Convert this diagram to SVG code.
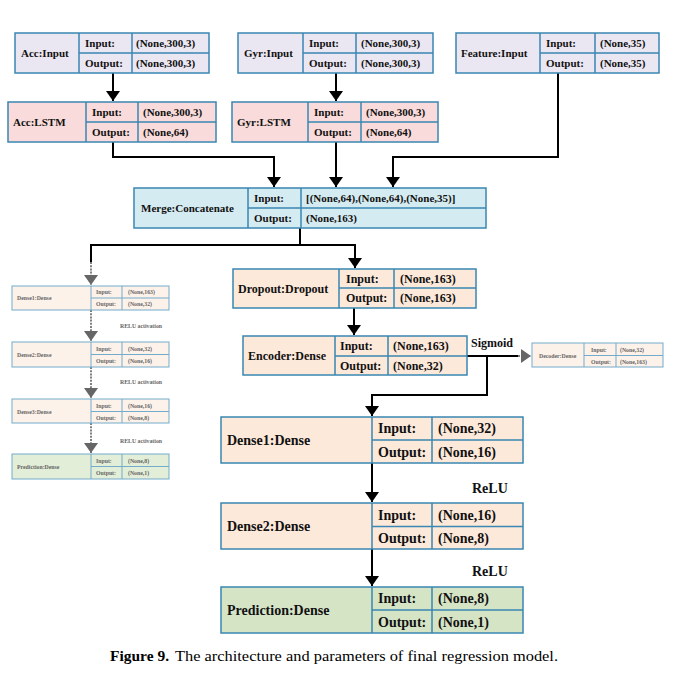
<svg xmlns="http://www.w3.org/2000/svg" width="698" height="678" viewBox="0 0 698 678">
<defs>
<style>
.box{stroke:#3a87b3;stroke-width:1.5}
.lav{fill:#ebe7f2}.pink{fill:#f8dbda}.blue{fill:#d5ebf2}.peach{fill:#fde9da}.green{fill:#d6e4c6}
.fpeach{fill:#fdf2ea}.fgreen{fill:#e3eed8}
.fbox{stroke:#72abcb;stroke-width:1}
.t{font-family:"Liberation Serif","Times New Roman",serif;font-weight:bold;fill:#111}
.s11{font-size:11px}.s12{font-size:12px}.s14{font-size:14px}
.ft{font-family:"Liberation Serif","Times New Roman",serif;font-weight:bold;fill:#666;font-size:5.8px}
.c{fill:none;stroke:#000;stroke-width:2}
.fc{fill:none;stroke:#555;stroke-width:1.5;stroke-dasharray:2 1.2}
</style>
<marker id="ah" viewBox="0 0 10 14" markerWidth="10" markerHeight="14" refX="10" refY="7" orient="auto" markerUnits="userSpaceOnUse"><path d="M0,0 L10,7 L0,14 z" fill="#000"/></marker>
<marker id="gh" viewBox="0 0 10 14" markerWidth="10" markerHeight="14" refX="10" refY="7" orient="auto" markerUnits="userSpaceOnUse"><path d="M0,0 L10,7 L0,14 z" fill="#666"/></marker>
</defs>
<rect width="698" height="678" fill="#fff"/>

<g id="connectors">
<path class="c" d="M113,73 V101" marker-end="url(#ah)"/>
<path class="c" d="M336,73 V101" marker-end="url(#ah)"/>
<path class="c" d="M113,142 V157 H274 V187" marker-end="url(#ah)"/>
<path class="c" d="M336,142 V187" marker-end="url(#ah)"/>
<path class="c" d="M558,73 V157 H393 V187" marker-end="url(#ah)"/>
<path class="c" d="M300,228 V245 H355 V268" marker-end="url(#ah)"/>
<path class="c" d="M300,245 H91 V262"/>
<path class="fc" d="M91,262 V285" marker-end="url(#gh)"/>
<path class="c" d="M354,308 V335" marker-end="url(#ah)"/>
<path class="c" d="M467,356 H518"/>
<path class="fc" d="M518,356 H531" marker-end="url(#gh)"/>
<path class="c" d="M487,356 V395 H372 V416" marker-end="url(#ah)"/>
<path class="c" d="M372,463 V502" marker-end="url(#ah)"/>
<path class="c" d="M372,549 V586" marker-end="url(#ah)"/>
<path class="fc" d="M91,310 V341" marker-end="url(#gh)"/>
<path class="fc" d="M91,367 V398" marker-end="url(#gh)"/>
<path class="fc" d="M91,423 V453" marker-end="url(#gh)"/>
<text class="t s12" x="471" y="347">Sigmoid</text>
<text class="t s14" x="472" y="493">ReLU</text>
<text class="t s14" x="472" y="576">ReLU</text>
<text class="ft" x="120" y="328">RELU activation</text>
<text class="ft" x="120" y="384">RELU activation</text>
<text class="ft" x="120" y="443">RELU activation</text>
</g>

<g id="acc-input">
<rect class="box lav" x="15" y="33" width="194" height="40"/>
<path class="box" d="M79,33 V73 M132,33 V73 M79,53 H209"/>
<text class="t s11" x="21" y="57">Acc:Input</text>
<text class="t s11" x="85" y="47">Input:</text><text class="t s11" x="136" y="47">(None,300,3)</text>
<text class="t s11" x="85" y="67">Output:</text><text class="t s11" x="136" y="67">(None,300,3)</text>
</g>
<g id="acc-lstm">
<rect class="box pink" x="8" y="102" width="208" height="40"/>
<path class="box" d="M86,102 V142 M138,102 V142 M86,122 H216"/>
<text class="t s11" x="13" y="126">Acc:LSTM</text>
<text class="t s11" x="92" y="116">Input:</text><text class="t s11" x="143" y="116">(None,300,3)</text>
<text class="t s11" x="92" y="136">Output:</text><text class="t s11" x="143" y="136">(None,64)</text>
</g>
<g id="gyr-input">
<rect class="box lav" x="238" y="33" width="195" height="40"/>
<path class="box" d="M303,33 V73 M356,33 V73 M303,53 H433"/>
<text class="t s11" x="244" y="57">Gyr:Input</text>
<text class="t s11" x="309" y="47">Input:</text><text class="t s11" x="361" y="47">(None,300,3)</text>
<text class="t s11" x="309" y="67">Output:</text><text class="t s11" x="361" y="67">(None,300,3)</text>
</g>
<g id="gyr-lstm">
<rect class="box pink" x="232" y="102" width="206" height="40"/>
<path class="box" d="M308,102 V142 M361,102 V142 M308,122 H438"/>
<text class="t s11" x="237" y="126">Gyr:LSTM</text>
<text class="t s11" x="314" y="116">Input:</text><text class="t s11" x="366" y="116">(None,300,3)</text>
<text class="t s11" x="314" y="136">Output:</text><text class="t s11" x="366" y="136">(None,64)</text>
</g>
<g id="feature-input">
<rect class="box lav" x="456" y="33" width="203" height="40"/>
<path class="box" d="M540,33 V73 M595,33 V73 M540,53 H659"/>
<text class="t s11" x="461" y="57">Feature:Input</text>
<text class="t s11" x="546" y="47">Input:</text><text class="t s11" x="600" y="47">(None,35)</text>
<text class="t s11" x="546" y="67">Output:</text><text class="t s11" x="600" y="67">(None,35)</text>
</g>
<g id="merge">
<rect class="box blue" x="134" y="188" width="352" height="40"/>
<path class="box" d="M248,188 V228 M301,188 V228 M248,208 H486"/>
<text class="t s11" x="141" y="212">Merge:Concatenate</text>
<text class="t s11" x="254" y="202">Input:</text><text class="t s11" x="306" y="202">[(None,64),(None,64),(None,35)]</text>
<text class="t s11" x="254" y="222">Output:</text><text class="t s11" x="306" y="222">(None,163)</text>
</g>
<g id="dropout">
<rect class="box peach" x="233" y="269" width="243" height="39"/>
<path class="box" d="M339,269 V308 M394,269 V308 M339,288 H476"/>
<text class="t s12" x="238" y="293">Dropout:Dropout</text>
<text class="t s12" x="346" y="283">Input:</text><text class="t s12" x="400" y="283">(None,163)</text>
<text class="t s12" x="346" y="302">Output:</text><text class="t s12" x="400" y="302">(None,163)</text>
</g>
<g id="encoder">
<rect class="box peach" x="243" y="336" width="224" height="39"/>
<path class="box" d="M335,336 V375 M388,336 V375 M335,356 H467"/>
<text class="t s12" x="248" y="360">Encoder:Dense</text>
<text class="t s12" x="340" y="350">Input:</text><text class="t s12" x="393" y="350">(None,163)</text>
<text class="t s12" x="340" y="370">Output:</text><text class="t s12" x="393" y="370">(None,32)</text>
</g>
<g id="decoder">
<rect class="fbox fpeach" x="532" y="343" width="131" height="24"/>
<path class="fbox" d="M584,343 V367 M616,343 V367 M584,355.5 H663"/>
<text class="ft" x="539" y="357.5">Decoder:Dense</text>
<text class="ft" x="591" y="351.5">Input:</text><text class="ft" x="620" y="351.5">(None,32)</text>
<text class="ft" x="591" y="363.5">Output:</text><text class="ft" x="620" y="363.5">(None,163)</text>
</g>
<g id="dense1">
<rect class="box peach" x="221" y="417" width="302" height="46"/>
<path class="box" d="M372,417 V463 M432,417 V463 M372,440 H523"/>
<text class="t s14" x="227" y="445">Dense1:Dense</text>
<text class="t s14" x="378" y="433">Input:</text><text class="t s14" x="438" y="433">(None,32)</text>
<text class="t s14" x="378" y="457">Output:</text><text class="t s14" x="438" y="457">(None,16)</text>
</g>
<g id="dense2">
<rect class="box peach" x="221" y="503" width="302" height="46"/>
<path class="box" d="M372,503 V549 M432,503 V549 M372,526.5 H523"/>
<text class="t s14" x="227" y="531">Dense2:Dense</text>
<text class="t s14" x="378" y="520">Input:</text><text class="t s14" x="438" y="520">(None,16)</text>
<text class="t s14" x="378" y="543">Output:</text><text class="t s14" x="438" y="543">(None,8)</text>
</g>
<g id="prediction">
<rect class="box green" x="221" y="587" width="302" height="46"/>
<path class="box" d="M372,587 V633 M432,587 V633 M372,610 H523"/>
<text class="t s14" x="227" y="615">Prediction:Dense</text>
<text class="t s14" x="378" y="603">Input:</text><text class="t s14" x="438" y="603">(None,8)</text>
<text class="t s14" x="378" y="627">Output:</text><text class="t s14" x="438" y="627">(None,1)</text>
</g>
<g id="left-dense1">
<rect class="fbox fpeach" x="12" y="286" width="157" height="24"/>
<path class="fbox" d="M91,286 V310 M122,286 V310 M91,298 H169"/>
<text class="ft" x="17" y="300">Dense1:Dense</text>
<text class="ft" x="96" y="294">Input:</text><text class="ft" x="128" y="294">(None,163)</text>
<text class="ft" x="96" y="306">Output:</text><text class="ft" x="128" y="306">(None,32)</text>
</g>
<g id="left-dense2">
<rect class="fbox fpeach" x="12" y="342" width="157" height="25"/>
<path class="fbox" d="M91,342 V367 M122,342 V367 M91,354.5 H169"/>
<text class="ft" x="17" y="356.5">Dense2:Dense</text>
<text class="ft" x="96" y="350.5">Input:</text><text class="ft" x="128" y="350.5">(None,32)</text>
<text class="ft" x="96" y="363">Output:</text><text class="ft" x="128" y="363">(None,16)</text>
</g>
<g id="left-dense3">
<rect class="fbox fpeach" x="12" y="399" width="157" height="24"/>
<path class="fbox" d="M91,399 V423 M122,399 V423 M91,411.5 H169"/>
<text class="ft" x="17" y="413.5">Dense3:Dense</text>
<text class="ft" x="96" y="407.5">Input:</text><text class="ft" x="128" y="407.5">(None,16)</text>
<text class="ft" x="96" y="419.5">Output:</text><text class="ft" x="128" y="419.5">(None,8)</text>
</g>
<g id="left-prediction">
<rect class="fbox fgreen" x="12" y="454" width="157" height="25"/>
<path class="fbox" d="M91,454 V479 M122,454 V479 M91,466.5 H169"/>
<text class="ft" x="17" y="468.5">Prediction:Dense</text>
<text class="ft" x="96" y="462.5">Input:</text><text class="ft" x="128" y="462.5">(None,8)</text>
<text class="ft" x="96" y="475">Output:</text><text class="ft" x="128" y="475">(None,1)</text>
</g>

<g id="caption">
<text x="110" y="661" font-family="'Liberation Serif','Times New Roman',serif" font-weight="bold" font-size="15" fill="#000" textLength="59" lengthAdjust="spacingAndGlyphs">Figure 9.</text>
<text x="175" y="661" font-family="'Liberation Serif','Times New Roman',serif" font-size="15" fill="#000" textLength="383" lengthAdjust="spacingAndGlyphs">The architecture and parameters of final regression model.</text>
</g>
</svg>
